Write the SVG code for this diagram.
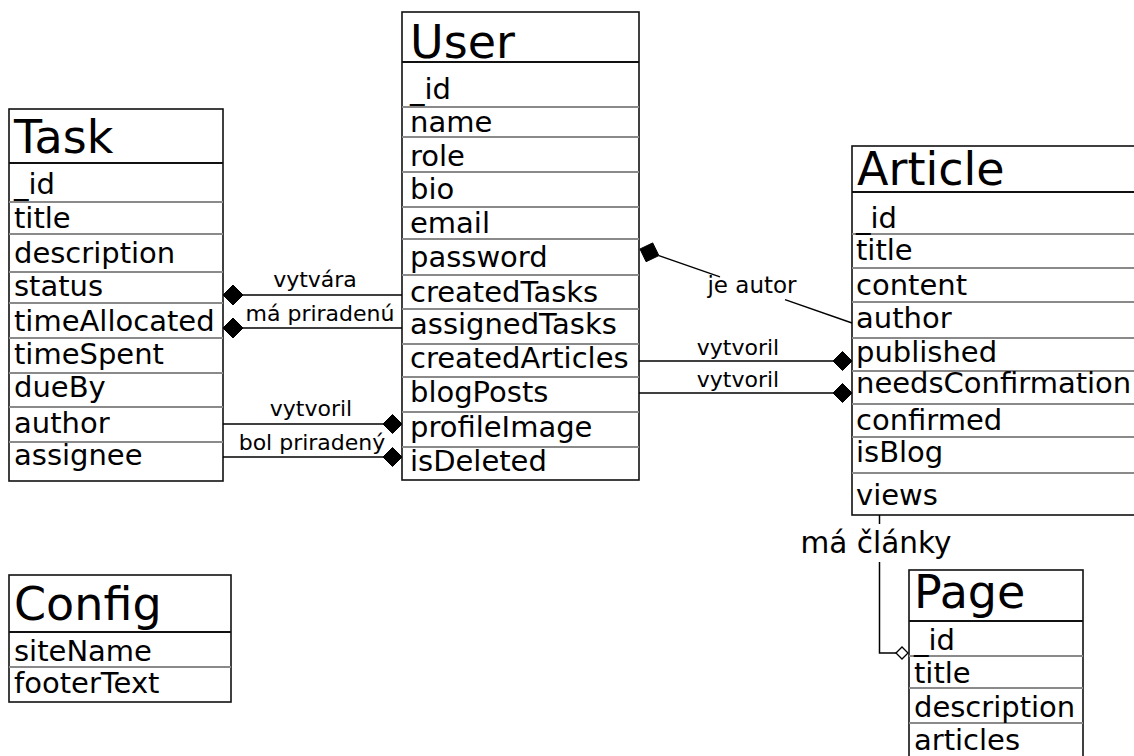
<svg xmlns="http://www.w3.org/2000/svg" width="1134" height="756" viewBox="0 0 1134 756">
<style>
.box{fill:#fff;stroke:#111;stroke-width:1.6}
.hdr{stroke:#111;stroke-width:1.8}
.sep{stroke:#8a8a8a;stroke-width:1.8}
.t{font-family:"DejaVu Sans",Verdana,sans-serif;fill:#000}
.title{font-size:46px}
.f{font-size:29px}
.lbl{font-family:"DejaVu Sans",Verdana,sans-serif;font-size:22px;fill:#000;text-anchor:middle}
.lblbig{font-family:"DejaVu Sans",Verdana,sans-serif;font-size:29.5px;fill:#000;text-anchor:middle}
.c{stroke:#000;stroke-width:1.5;fill:none}
.dia{fill:#000;stroke:#000;stroke-width:1}
.hol{fill:#fff;stroke:#000;stroke-width:1.3}
</style>
<rect width="1134" height="756" fill="#fff"/>

<g id="task">
<rect class="box" x="9" y="109" width="214" height="372"/>
<line class="hdr" x1="9" y1="163" x2="223" y2="163"/>
<line class="sep" x1="9" y1="202" x2="223" y2="202"/>
<line class="sep" x1="9" y1="234" x2="223" y2="234"/>
<line class="sep" x1="9" y1="272" x2="223" y2="272"/>
<line class="sep" x1="9" y1="303" x2="223" y2="303"/>
<line class="sep" x1="9" y1="338" x2="223" y2="338"/>
<line class="sep" x1="9" y1="373" x2="223" y2="373"/>
<line class="sep" x1="9" y1="407" x2="223" y2="407"/>
<line class="sep" x1="9" y1="442" x2="223" y2="442"/>
<text class="t title" x="14" y="153">Task</text>
<text class="t f" x="14" y="194">_id</text>
<text class="t f" x="14" y="228">title</text>
<text class="t f" x="14" y="263">description</text>
<text class="t f" x="14" y="296">status</text>
<text class="t f" x="14" y="331">timeAllocated</text>
<text class="t f" x="14" y="364">timeSpent</text>
<text class="t f" x="14" y="397">dueBy</text>
<text class="t f" x="14" y="433">author</text>
<text class="t f" x="14" y="465">assignee</text>
</g>

<g id="user">
<rect class="box" x="402" y="12" width="237" height="468"/>
<line class="hdr" x1="402" y1="62" x2="639" y2="62"/>
<line class="sep" x1="402" y1="107" x2="639" y2="107"/>
<line class="sep" x1="402" y1="137" x2="639" y2="137"/>
<line class="sep" x1="402" y1="172" x2="639" y2="172"/>
<line class="sep" x1="402" y1="207" x2="639" y2="207"/>
<line class="sep" x1="402" y1="239" x2="639" y2="239"/>
<line class="sep" x1="402" y1="275" x2="639" y2="275"/>
<line class="sep" x1="402" y1="309" x2="639" y2="309"/>
<line class="sep" x1="402" y1="344" x2="639" y2="344"/>
<line class="sep" x1="402" y1="377" x2="639" y2="377"/>
<line class="sep" x1="402" y1="412" x2="639" y2="412"/>
<line class="sep" x1="402" y1="447" x2="639" y2="447"/>
<text class="t title" x="410" y="58">User</text>
<text class="t f" x="410" y="99">_id</text>
<text class="t f" x="410" y="132">name</text>
<text class="t f" x="410" y="166">role</text>
<text class="t f" x="410" y="199">bio</text>
<text class="t f" x="410" y="233">email</text>
<text class="t f" x="410" y="267">password</text>
<text class="t f" x="410" y="302">createdTasks</text>
<text class="t f" x="410" y="334">assignedTasks</text>
<text class="t f" x="410" y="368">createdArticles</text>
<text class="t f" x="410" y="402">blogPosts</text>
<text class="t f" x="410" y="437">profileImage</text>
<text class="t f" x="410" y="471">isDeleted</text>
</g>

<g id="article">
<rect class="box" x="852" y="146" width="320" height="369"/>
<line class="hdr" x1="852" y1="192" x2="1172" y2="192"/>
<line class="sep" x1="852" y1="234" x2="1172" y2="234"/>
<line class="sep" x1="852" y1="268" x2="1172" y2="268"/>
<line class="sep" x1="852" y1="302" x2="1172" y2="302"/>
<line class="sep" x1="852" y1="338" x2="1172" y2="338"/>
<line class="sep" x1="852" y1="371" x2="1172" y2="371"/>
<line class="sep" x1="852" y1="404" x2="1172" y2="404"/>
<line class="sep" x1="852" y1="437" x2="1172" y2="437"/>
<line class="sep" x1="852" y1="473" x2="1172" y2="473"/>
<text class="t title" x="857" y="185">Article</text>
<text class="t f" x="856" y="228">_id</text>
<text class="t f" x="856" y="260">title</text>
<text class="t f" x="856" y="295">content</text>
<text class="t f" x="856" y="328">author</text>
<text class="t f" x="856" y="362">published</text>
<text class="t f" x="856" y="393">needsConfirmation</text>
<text class="t f" x="856" y="430">confirmed</text>
<text class="t f" x="856" y="462">isBlog</text>
<text class="t f" x="856" y="505">views</text>
</g>

<g id="config">
<rect class="box" x="9" y="575" width="222" height="127"/>
<line class="hdr" x1="9" y1="632" x2="231" y2="632"/>
<line class="sep" x1="9" y1="667" x2="231" y2="667"/>
<text class="t title" x="14" y="620">Config</text>
<text class="t f" x="14" y="661">siteName</text>
<text class="t f" x="14" y="693">footerText</text>
</g>

<g id="page">
<rect class="box" x="909" y="570" width="174" height="190"/>
<line class="hdr" x1="909" y1="621" x2="1083" y2="621"/>
<line class="sep" x1="909" y1="656" x2="1083" y2="656"/>
<line class="sep" x1="909" y1="688" x2="1083" y2="688"/>
<line class="sep" x1="909" y1="723" x2="1083" y2="723"/>
<text class="t title" x="914" y="608">Page</text>
<text class="t f" x="914" y="650">_id</text>
<text class="t f" x="914" y="683">title</text>
<text class="t f" x="914" y="717">description</text>
<text class="t f" x="914" y="750">articles</text>
</g>

<g id="connectors">
<line class="c" x1="223" y1="295" x2="402" y2="295"/>
<polygon class="dia" points="223,295 233,285 243,295 233,305"/>
<text class="lbl" x="315" y="287">vytvára</text>
<line class="c" x1="223" y1="328" x2="402" y2="328"/>
<polygon class="dia" points="223,328 233,318 243,328 233,338"/>
<text class="lbl" x="320" y="321">má priradenú</text>
<line class="c" x1="223" y1="424" x2="402" y2="424"/>
<polygon class="dia" points="383,424 392.5,414.5 402,424 392.5,433.5"/>
<text class="lbl" x="311" y="416">vytvoril</text>
<line class="c" x1="223" y1="457" x2="402" y2="457"/>
<polygon class="dia" points="383,457 392.5,447.5 402,457 392.5,466.5"/>
<text class="lbl" x="312" y="450">bol priradený</text>
<polygon class="dia" points="640,249 652.7,242.9 658.9,255.6 646.1,261.7"/>
<line class="c" x1="658.9" y1="255.6" x2="720" y2="276.9"/>
<line class="c" x1="785" y1="299.6" x2="852" y2="323"/>
<text class="lbl" x="752" y="293" style="font-size:23px">je autor</text>
<line class="c" x1="639" y1="361" x2="852" y2="361"/>
<polygon class="dia" points="833,361 842.5,351.5 852,361 842.5,370.5"/>
<text class="lbl" x="738" y="355">vytvoril</text>
<line class="c" x1="639" y1="393" x2="852" y2="393"/>
<polygon class="dia" points="833,393 842.5,383.5 852,393 842.5,402.5"/>
<text class="lbl" x="738" y="387">vytvoril</text>
<polyline class="c" points="879.5,515 879.5,524"/>
<polyline class="c" points="879.5,562 879.5,653 896,653"/>
<polygon class="hol" points="896,653 902,647 908,653 902,659"/>
<text class="lblbig" x="876" y="553">má články</text>
</g>
</svg>
